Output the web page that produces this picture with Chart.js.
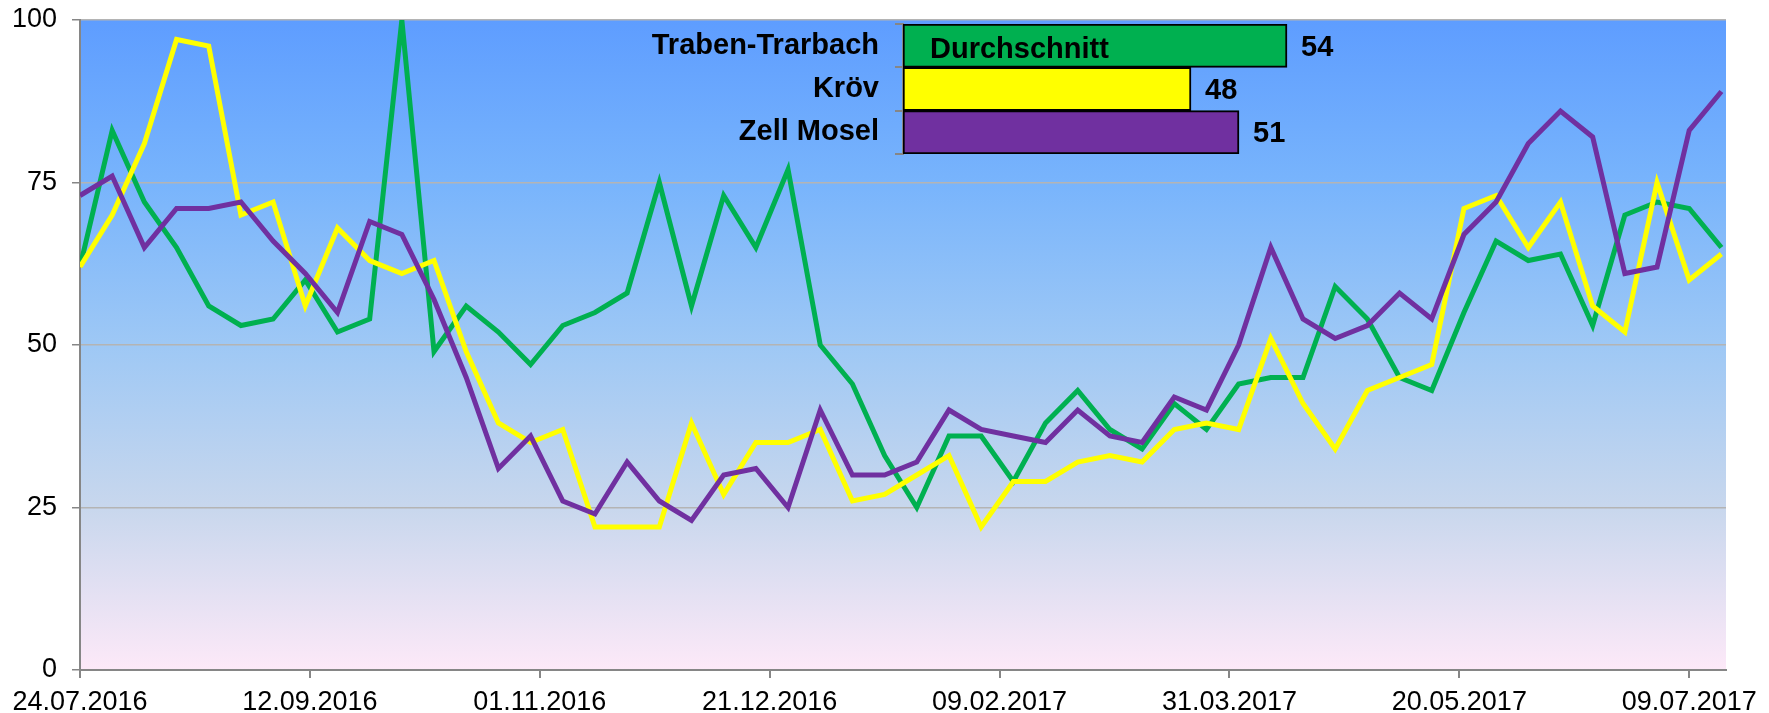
<!DOCTYPE html>
<html>
<head>
<meta charset="utf-8">
<script src="https://cdn.jsdelivr.net/npm/chart.js@4.4.0/dist/chart.umd.min.js"></script>
<style>
  body { margin: 0; background: #fff; }
  #wrap { position: relative; width: 1769px; height: 713px; }
  canvas { position: absolute; left: 0; top: 0; }
</style>
</head>
<body>
<div id="wrap">
  <canvas id="lineChart" width="1769" height="713"></canvas>
  <canvas id="barChart" width="1769" height="713"></canvas>
</div>
<script>
const FONT = "'Liberation Sans', Arial, sans-serif";

// weekly dates
const weeks = [
  '24.07.2016', '31.07.2016', '07.08.2016', '14.08.2016', '21.08.2016', '28.08.2016',
  '04.09.2016', '11.09.2016', '18.09.2016', '25.09.2016', '02.10.2016', '09.10.2016',
  '16.10.2016', '23.10.2016', '30.10.2016', '06.11.2016', '13.11.2016', '20.11.2016',
  '27.11.2016', '04.12.2016', '11.12.2016', '18.12.2016', '25.12.2016', '01.01.2017',
  '08.01.2017', '15.01.2017', '22.01.2017', '29.01.2017', '05.02.2017', '12.02.2017',
  '19.02.2017', '26.02.2017', '05.03.2017', '12.03.2017', '19.03.2017', '26.03.2017',
  '02.04.2017', '09.04.2017', '16.04.2017', '23.04.2017', '30.04.2017', '07.05.2017',
  '14.05.2017', '21.05.2017', '28.05.2017', '04.06.2017', '11.06.2017', '18.06.2017',
  '25.06.2017', '02.07.2017', '09.07.2017', '16.07.2017',
];

const tickLabels = [
  '24.07.2016', '12.09.2016', '01.11.2016', '21.12.2016',
  '09.02.2017', '31.03.2017', '20.05.2017', '09.07.2017',
];

const trabenTrarbach = [
  62, 83, 72, 65, 56, 53, 54, 60, 52, 54,
  100, 49, 56, 52, 47, 53, 55, 58, 75, 56,
  73, 65, 77, 50, 44, 33, 25, 36, 36, 29,
  38, 43, 37, 34, 41, 37, 44, 45, 45, 59,
  54, 45, 43, 55, 66, 63, 64, 53, 70, 72,
  71, 65,
];

const kroev = [
  62, 70, 81, 97, 96, 70, 72, 56, 68, 63,
  61, 63, 49, 38, 35, 37, 22, 22, 22, 38,
  27, 35, 35, 37, 26, 27, 30, 33, 22, 29,
  29, 32, 33, 32, 37, 38, 37, 51, 41, 34,
  43, 45, 47, 71, 73, 65, 72, 56, 52, 75,
  60, 64,
];

const zellMosel = [
  73, 76, 65, 71, 71, 72, 66, 61, 55, 69,
  67, 57, 45, 31, 36, 26, 24, 32, 26, 23,
  30, 31, 25, 40, 30, 30, 32, 40, 37, 36,
  35, 40, 36, 35, 42, 40, 50, 65, 54, 51,
  53, 58, 54, 67, 72, 81, 86, 82, 61, 62,
  83, 89,
];

// inset: averages
const barCategories = ['Traben-Trarbach', 'Kröv', 'Zell Mosel'];
const barValues = [54, 48, 51];
const barNote = 'Durchschnitt';

const GREEN = '#00B050';
const YELLOW = '#FFFF00';
const PURPLE = '#7030A0';

const toUTC = (s) => {
  const [d, m, y] = s.split('.').map(Number);
  return Date.UTC(y, m - 1, d);
};
const day0 = toUTC(weeks[0]);
const days = weeks.map(w => Math.round((toUTC(w) - day0) / 86400000));
const toPoints = (values) => values.map((v, i) => ({ x: days[i], y: v }));

// keep tick label padding from pushing the plot area around
const noScalePadding = (s) => {
  s.paddingTop = 0;
  s.paddingBottom = 0;
  s.paddingLeft = 0;
  s.paddingRight = 0;
};

const plotBackground = {
  id: 'plotBackground',
  beforeDraw(chart) {
    const { ctx, chartArea: a } = chart;
    const g = ctx.createLinearGradient(0, a.top, 0, a.bottom);
    g.addColorStop(0, 'rgb(94,157,255)');
    g.addColorStop(0.25, 'rgb(120,180,252)');
    g.addColorStop(0.5, 'rgb(158,200,245)');
    g.addColorStop(0.75, 'rgb(200,215,237)');
    g.addColorStop(1, 'rgb(253,233,248)');
    ctx.save();
    ctx.fillStyle = g;
    ctx.fillRect(a.left, a.top, a.right - a.left, a.bottom - a.top);
    ctx.restore();
  }
};

// LINE CHART
const lineChart = new Chart(document.getElementById('lineChart'), {
  type: 'line',
  data: {
    datasets: [
      { label: 'Traben-Trarbach', data: toPoints(trabenTrarbach), borderColor: GREEN, order: 3 },
      { label: 'Kröv', data: toPoints(kroev), borderColor: YELLOW, order: 2 },
      { label: 'Zell Mosel', data: toPoints(zellMosel), borderColor: PURPLE, order: 1 },
    ]
  },
  options: {
    responsive: false,
    animation: false,
    layout: { padding: { top: 20, right: 43, left: 0, bottom: 0 } },
    plugins: { legend: { display: false }, tooltip: { enabled: false } },
    elements: {
      point: { radius: 0 },
      line: { borderWidth: 5, tension: 0 }
    },
    scales: {
      x: {
        type: 'linear',
        min: 0,
        max: 358,
        grid: { drawOnChartArea: false, tickLength: 8, color: '#868686', lineWidth: 2 },
        border: { color: '#868686', width: 2 },
        ticks: {
          stepSize: 50,
          includeBounds: false,
          autoSkip: false,
          maxRotation: 0,
          padding: 8,
          color: '#000',
          font: { family: FONT, size: 27 },
          callback: (v) => tickLabels[v / 50] ?? ''
        },
        afterFit: (s) => { s.height = 43; noScalePadding(s); }
      },
      y: {
        min: 0,
        max: 100,
        grid: { color: '#b4b4b4', lineWidth: 1.5, tickLength: 8, tickColor: '#868686' },
        border: { color: '#868686', width: 2 },
        ticks: { stepSize: 25, padding: 15, color: '#000', font: { family: FONT, size: 27 } },
        afterFit: (s) => { s.width = 80; noScalePadding(s); }
      }
    }
  },
  plugins: [plotBackground]
});

// BAR INSET
const barLabels = {
  id: 'barLabels',
  afterDatasetsDraw(chart) {
    const { ctx } = chart;
    const meta = chart.getDatasetMeta(0);
    ctx.save();
    ctx.font = 'bold 29px ' + FONT;
    ctx.fillStyle = '#000';
    ctx.textBaseline = 'middle';
    ctx.textAlign = 'left';
    meta.data.forEach((bar, i) => {
      ctx.fillText(String(barValues[i]), bar.x + 14, bar.y + 2);
    });
    const first = meta.data[0];
    ctx.fillText(barNote, first.base + 27, first.y + 4);
    ctx.restore();
  }
};

const barChart = new Chart(document.getElementById('barChart'), {
  type: 'bar',
  data: {
    labels: barCategories,
    datasets: [{
      data: barValues,
      base: 30,
      backgroundColor: [GREEN, YELLOW, PURPLE],
      borderColor: '#000',
      borderWidth: 2,
      borderSkipped: false,
      barPercentage: 1,
      categoryPercentage: 1
    }]
  },
  options: {
    indexAxis: 'y',
    responsive: false,
    animation: false,
    layout: { padding: { top: 24, right: 386, bottom: 559, left: 0 } },
    plugins: { legend: { display: false }, tooltip: { enabled: false } },
    scales: {
      x: { display: false, min: 30, max: 60 },
      y: {
        grid: { drawOnChartArea: false, tickLength: 8, color: '#868686', lineWidth: 2 },
        border: { color: '#868686', width: 2 },
        ticks: { padding: 16, color: '#000', font: { family: FONT, size: 29, weight: 'bold' } },
        afterFit: (s) => { s.width = 903; noScalePadding(s); }
      }
    }
  },
  plugins: [barLabels]
});
</script>
</body>
</html>
